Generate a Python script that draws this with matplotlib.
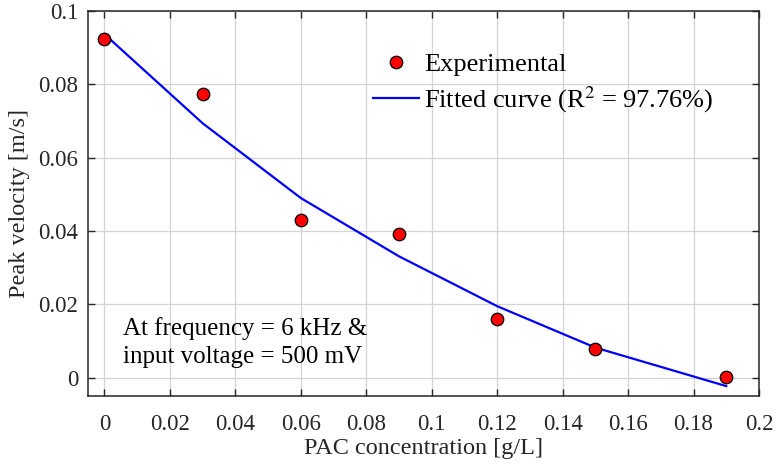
import matplotlib
matplotlib.use("Agg")
import matplotlib.pyplot as plt

plt.rcParams['font.family'] = ['Liberation Serif', 'DejaVu Serif']
plt.rcParams['mathtext.fontset'] = 'stix'

# PAC concentration [g/L] and measured / fitted peak velocity [m/s]
conc = [0, 0.03, 0.06, 0.09, 0.12, 0.15, 0.19]
vel_exp = [0.0923, 0.0774, 0.0429, 0.0392, 0.0159, 0.0079, 0.0002]
vel_fit = [0.0937, 0.0694, 0.0490, 0.0331, 0.0195, 0.0082, -0.0023]

xticks = [0, 0.02, 0.04, 0.06, 0.08, 0.1, 0.12, 0.14, 0.16, 0.18, 0.2]
xticklabels = ['0', '0.02', '0.04', '0.06', '0.08', '0.1', '0.12', '0.14', '0.16', '0.18', '0.2']
yticks = [0, 0.02, 0.04, 0.06, 0.08, 0.1]
yticklabels = ['0', '0.02', '0.04', '0.06', '0.08', '0.1']

fig = plt.figure(figsize=(7.76, 4.65), dpi=100)
ax = fig.add_axes([88 / 776, 1 - 396 / 465, (759 - 88) / 776, (396 - 11) / 465])

ax.plot(conc, vel_exp, 'o', ms=9, mfc='red', mec='black', mew=0.9,
        label='Experimental', zorder=3)
ax.plot(conc, vel_fit, '-', color='blue', lw=1.6,
        label=r'Fitted curve (R$^{2}$ = 97.76%)', zorder=2)

ax.set_xlim(-0.005, 0.2)
ax.set_ylim(-0.005, 0.1)
ax.set_xticks(xticks)
ax.set_xticklabels(xticklabels)
ax.set_yticks(yticks)
ax.set_yticklabels(yticklabels)
ax.tick_params(direction='in', top=True, right=True, length=5, width=1,
               labelsize=16.5, color='#262626', labelcolor='#262626')
ax.tick_params(axis='x', pad=13)
ax.tick_params(axis='y', pad=7)
ax.grid(True, color='#d4d4d4', lw=0.9)
ax.set_axisbelow(True)
for s in ax.spines.values():
    s.set_color('#262626')
    s.set_linewidth(1.1)

ax.set_xlabel('PAC concentration [g/L]', fontsize=17.5, color='#262626', labelpad=2)
ax.set_ylabel('Peak velocity [m/s]', fontsize=17.5, color='#262626', labelpad=6)

ax.legend(loc='upper left', bbox_to_anchor=(0.397, 0.94), frameon=False,
          fontsize=19, handlelength=1.75, handletextpad=0.2, labelspacing=0.3,
          borderaxespad=0.3)

# operating conditions note, two lines placed by baseline
ax.text(0.052, 0.158, 'At frequency = 6 kHz &', transform=ax.transAxes,
        fontsize=18, va='baseline', ha='left')
ax.text(0.052, 0.086, 'input voltage = 500 mV', transform=ax.transAxes,
        fontsize=18, va='baseline', ha='left')

fig.savefig('out.png', dpi=100)
